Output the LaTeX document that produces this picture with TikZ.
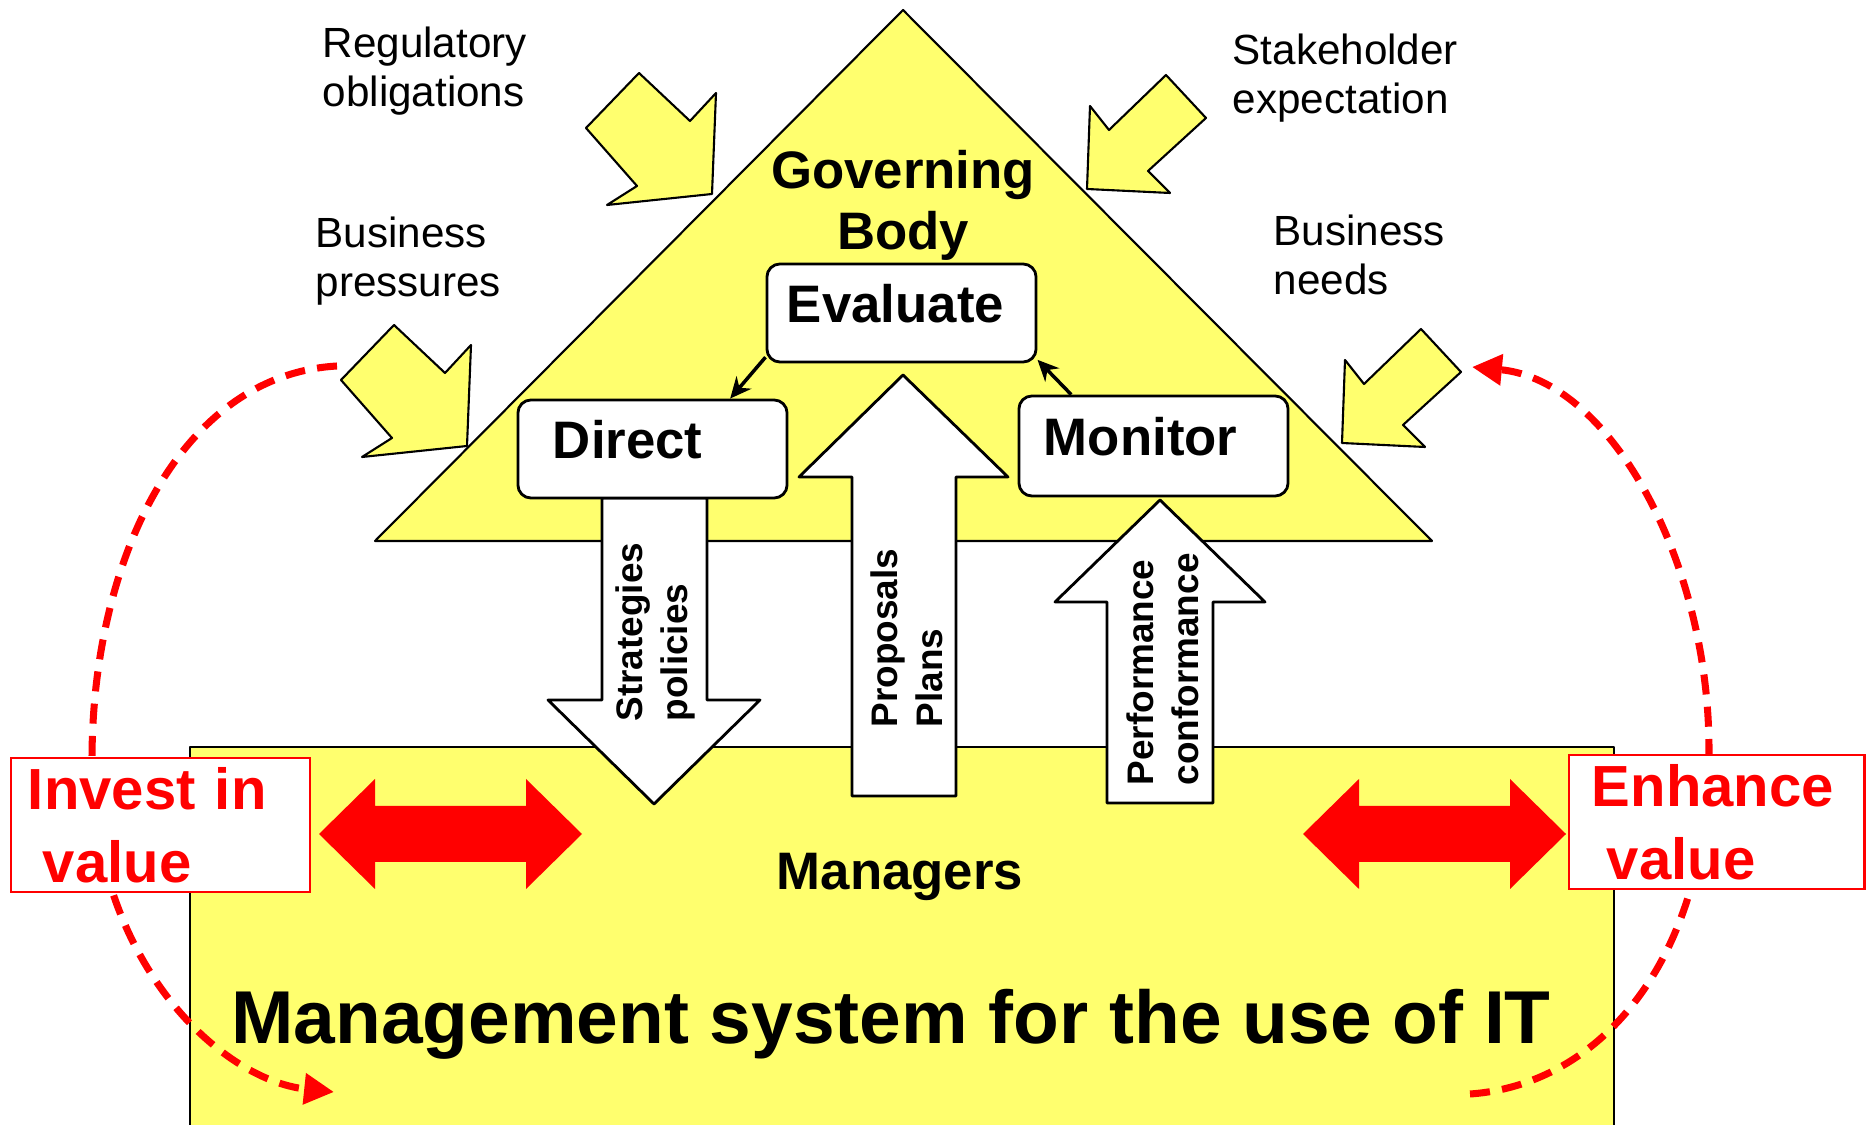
\documentclass[tikz,border=0pt]{standalone}
\usepackage{fontspec}
\setmainfont{Liberation Sans}
\usepackage{xcolor}
\definecolor{govyellow}{RGB}{255,255,110}
\definecolor{valuered}{RGB}{255,0,0}
\usetikzlibrary{arrows.meta}

\begin{document}
\begin{tikzpicture}[x=0.01cm, y=-0.01cm,
    yellowshape/.style={fill=govyellow, draw=black, line width=0.6pt, line join=round},
    whitearrow/.style={fill=white, draw=black, line width=0.8pt, line join=round},
    govbox/.style={draw=black, fill=white, line width=0.8pt, rounded corners=0.13cm,
      minimum width=2.69cm, minimum height=0.98cm, inner ysep=0pt,
      text height=0.38cm, text depth=0.19cm, align=left,
      font=\fontsize{15}{17.6}\selectfont\bfseries},
    lbl/.style={align=left, inner sep=0pt, font=\fontsize{12}{14}\selectfont},
    rotlbl/.style={rotate=90, anchor=west, align=left, inner sep=0pt,
      font=\fontsize{10.5}{12.8}\selectfont\bfseries},
    valuebox/.style={draw=valuered, fill=white, line width=0.8pt, text=valuered,
      align=left, inner ysep=0pt, minimum height=1.34cm,
      font=\fontsize{16.5}{20.8}\selectfont\bfseries},
    valuedash/.style={valuered, line width=2pt, dash pattern=on 5.7pt off 3.5pt,
      -{Triangle[length=8.5pt,width=8.5pt]}}]
    \useasboundingbox (0,0) rectangle (1866,1125);

    % governing body and management system
    \draw[yellowshape] (375,541) -- (903,10) -- (1432,541) -- cycle;
    \draw[yellowshape] (190,1130) -- (190,747) -- (1614,747) -- (1614,1130);

    % outside pressures
    \foreach \dx/\dy in {0/0, 245/-252}
      \draw[yellowshape, shift={(\dx,\dy)}] (394,325) -- (445,373) -- (471,345) -- (467,446)
        -- (362,457) -- (392,438) -- (341,380) -- cycle;
    \foreach \dx/\dy in {0/0, 255/254}
      \draw[yellowshape, shift={(\dx,\dy)}] (1166,75) -- (1206,118) -- (1148,171) -- (1170,193)
        -- (1087,189) -- (1090,106) -- (1109,130) -- cycle;

    \node[lbl, anchor=base west] (reg) at (322,107) {Regulatory\\obligations};
    \node[lbl, anchor=base west] (press) at (315,297) {Business\\pressures};
    \node[lbl, anchor=base west] (stake) at (1232,114) {Stakeholder\\expectation};
    \node[lbl, anchor=base west] (needs) at (1273,295) {Business\\needs};

    % white arrows
    \draw[whitearrow] (602,498) -- (707,498) -- (707,700) -- (760,700) -- (654,804)
      -- (548,700) -- (602,700) -- cycle;
    \draw[whitearrow] (852,796) -- (852,477) -- (799,477) -- (903,375) -- (1008,477)
      -- (956,477) -- (956,796) -- cycle;
    \draw[whitearrow] (1107,803) -- (1107,602) -- (1055,602) -- (1160,500) -- (1265,602)
      -- (1213,602) -- (1213,803) -- cycle;
    \node[rotlbl] (strat) at (655,722) {Strategies\\policies};
    \node[rotlbl] (prop) at (907,728) {Proposals\\Plans};
    \node[rotlbl] (perf) at (1163,786) {Performance\\conformance};

    \node[align=center, inner sep=0pt, anchor=base, font=\fontsize{15}{17.6}\selectfont\bfseries]
      (gb) at (903,250) {Governing\\Body};
    \node[govbox, inner xsep=0.2cm, text width=2.29cm] (eval) at (901.5,313) {Evaluate};
    \node[govbox, inner xsep=0.35cm, text width=1.99cm] (direct) at (652.5,449) {Direct};
    \node[govbox, inner xsep=0.25cm, text width=2.19cm, minimum height=1cm] (mon) at (1153.5,446) {Monitor};
    \draw[line width=1pt, -{Stealth[length=6pt,width=5.5pt]}] (eval.198) -- (direct.33);
    \draw[line width=1pt, -{Stealth[length=6pt,width=5.5pt]}] (mon.148) -- (eval.-19);

    \node[anchor=base, font=\fontsize{15}{17.6}\selectfont\bfseries] (mgr) at (900,890) {Managers};
    \node[anchor=base, font=\fontsize{21.3}{25}\selectfont\bfseries] (mgmt) at (891,1044)
      {Management system for the use of IT};

    % value loops
    \foreach \dx in {0,984}
      \fill[valuered, shift={(\dx,0)}] (319,834) -- (375,779) -- (375,806) -- (526,806) -- (526,779)
        -- (582,834) -- (526,889) -- (526,862) -- (375,862) -- (375,889) -- cycle;
    \coordinate (lstart) at (337,366);
    \coordinate (lend) at (334,1092);
    \coordinate (rstart) at (1470,1094);
    \coordinate (rend) at (1472,367);
    \draw[valuedash] (lstart) .. controls (180,375) and (92,560) .. (92,760)
      .. controls (92,960) and (220,1080) .. (lend);
    \draw[valuedash] (rstart) .. controls (1600,1085) and (1709,960) .. (1709,750)
      .. controls (1709,560) and (1610,380) .. (rend);
    \node[valuebox, inner xsep=0.17cm, text width=2.65cm] (invest) at (160.5,825)
      {Invest in\\\hspace*{0.15cm}value};
    \node[valuebox, inner xsep=0.23cm, text width=2.49cm] (enhance) at (1716.5,822)
      {Enhance\\\hspace*{0.15cm}value};
\end{tikzpicture}
\end{document}
